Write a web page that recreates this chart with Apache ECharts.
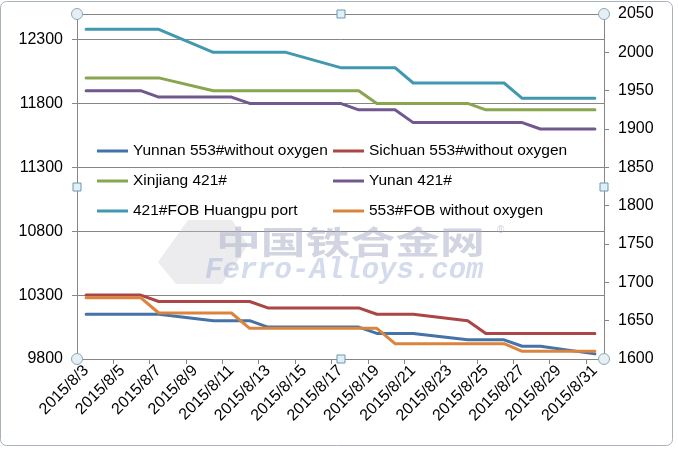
<!DOCTYPE html>
<html><head><meta charset="utf-8">
<script src="https://cdn.jsdelivr.net/npm/echarts@6/dist/echarts.min.js"></script>
<style>html,body{margin:0;padding:0;background:#fff}#c{width:678px;height:452px}</style>
</head><body><div id="c"></div>
<script>
const categories = ["2015/8/3","2015/8/4","2015/8/5","2015/8/6","2015/8/7","2015/8/8","2015/8/9","2015/8/10","2015/8/11","2015/8/12","2015/8/13","2015/8/14","2015/8/15","2015/8/16","2015/8/17","2015/8/18","2015/8/19","2015/8/20","2015/8/21","2015/8/22","2015/8/23","2015/8/24","2015/8/25","2015/8/26","2015/8/27","2015/8/28","2015/8/29","2015/8/30","2015/8/31"];
const yunnan553 = [10150,10150,10150,10150,10150,null,null,10100,10100,10100,10050,10050,null,null,10050,10050,10000,10000,10000,null,null,9950,9950,9950,9900,9900,null,null,9840];
const sichuan553 = [10300,10300,10300,10300,10250,null,null,10250,10250,10250,10200,10200,null,null,10200,10200,10150,10150,10150,null,null,10100,10000,10000,10000,10000,null,null,10000];
const xinjiang421 = [12000,12000,12000,12000,12000,null,null,11900,11900,11900,11900,11900,null,null,11900,11900,11800,11800,11800,null,null,11800,11750,11750,11750,11750,null,null,11750];
const yunan421 = [11900,11900,11900,11900,11850,null,null,11850,11850,11800,11800,11800,null,null,11800,11750,11750,11750,11650,null,null,11650,11650,11650,11650,11600,null,null,11600];
const fobHuangpu421 = [2030,2030,2030,2030,2030,null,null,2000,2000,2000,2000,2000,null,null,1980,1980,1980,1980,1960,null,null,1960,1960,1960,1940,1940,null,null,1940];
const fob553 = [1680,1680,1680,1680,1660,null,null,1660,1660,1640,1640,1640,null,null,1640,1640,1640,1620,1620,null,null,1620,1620,1620,1610,1610,null,null,1610];
const seriesNames = ["Yunnan 553#without oxygen","Sichuan 553#without oxygen","Xinjiang 421#","Yunan 421#","421#FOB Huangpu port","553#FOB without oxygen"];
const leftTicks = {min:9800, max:12500, interval:500};
const rightTicks = {min:1600, max:2050, interval:50};

const colors = ["#4572A7","#AA4643","#89A54E","#71588F","#4198AF","#DB843D"];
const FONT = "Liberation Sans";
const chart = echarts.init(document.getElementById('c'), null, {renderer:'canvas'});
const dataList = [yunnan553, sichuan553, xinjiang421, yunan421, fobHuangpu421, fob553];
const axisIdx = [0,0,0,0,1,1];
const series = seriesNames.map((n,i)=>({
  name:n, type:'line', yAxisIndex:axisIdx[i], data:dataList[i], connectNulls:true,
  showSymbol:false, symbol:'none', animation:false, z:3,
  lineStyle:{width:3, color:colors[i], join:'round', cap:'round'}, itemStyle:{color:colors[i]}
}));
const legendCommon = {orient:'vertical', icon:'rect', itemWidth:31, itemHeight:3, itemGap:14,
  textStyle:{fontFamily:FONT, fontSize:15.5, color:'#000'}, padding:0, selectedMode:false};
function handle(x,y,sq){
  return sq ? {type:'rect', shape:{x:x-4,y:y-4,width:8,height:8}, style:{fill:'#dff0f6', stroke:'#6f95b0', lineWidth:1}, z:100}
            : {type:'circle', shape:{cx:x,cy:y,r:5.5}, style:{fill:'#e6f0f4', stroke:'#8fa8b8', lineWidth:1}, z:100};
}
const plain = v => String(v);
chart.setOption({
  animation:false,
  backgroundColor:'#fff',
  grid:{left:77, right:74, top:14, bottom:93, containLabel:false},
  legend:[
    Object.assign({}, legendCommon, {left:97, top:143, data:[seriesNames[0], seriesNames[2], seriesNames[4]]}),
    Object.assign({}, legendCommon, {left:333, top:143, data:[seriesNames[1], seriesNames[3], seriesNames[5]]})
  ],
  xAxis:{type:'category', data:categories, boundaryGap:true,
    axisLine:{lineStyle:{color:'#868686', width:1}},
    axisTick:{show:true, interval:1, length:5, lineStyle:{color:'#868686'}},
    axisLabel:{interval:1, rotate:45, fontFamily:FONT, fontSize:16, color:'#000', margin:9}},
  yAxis:[
    {type:'value', min:leftTicks.min, max:leftTicks.max, interval:leftTicks.interval, position:'left',
     axisLine:{show:true, lineStyle:{color:'#868686'}}, axisTick:{show:true, length:5, lineStyle:{color:'#868686'}},
     axisLabel:{showMaxLabel:false, formatter:plain, fontFamily:FONT, fontSize:16, color:'#000', margin:14},
     splitLine:{show:true, lineStyle:{color:'#868686', width:1}}},
    {type:'value', min:rightTicks.min, max:rightTicks.max, interval:rightTicks.interval, position:'right',
     axisLine:{show:true, lineStyle:{color:'#868686'}}, axisTick:{show:true, length:5, lineStyle:{color:'#868686'}},
     axisLabel:{formatter:plain, fontFamily:FONT, fontSize:16, color:'#000', margin:14},
     splitLine:{show:false}}
  ],
  graphic:[
    {type:'rect', shape:{x:0.5,y:1.5,width:672,height:444,r:6}, style:{fill:'none', stroke:'#a9b3bd', lineWidth:1}, z:0, silent:true},
    {type:'polygon', shape:{points:[[158,262],[188,220],[232,220],[248,245],[222,284],[176,284]]}, style:{fill:'rgba(200,200,205,0.35)', stroke:'none'}, z:1},
    {type:'text', x:216, y:226, scaleX:1.4, style:{text:'中国铁合金网', font:'bold 32px "Noto Sans CJK SC"', fill:'rgba(165,172,195,0.5)'}, z:1},
    {type:'text', left:497, top:225, style:{text:'®', font:'10px "Liberation Sans"', fill:'rgba(170,178,200,0.6)'}, z:1},
    {type:'text', left:205, top:256, style:{text:'Ferro-Alloys.com', font:'italic bold 29px "Liberation Mono"', fill:'rgba(160,175,215,0.45)'}, z:1},
    handle(77,14), handle(604,14), handle(77,359), handle(604,359),
    handle(341,14,true), handle(341,359,true), handle(77,187,true), handle(604,187,true)
  ],
  series:series
});
</script></body></html>
